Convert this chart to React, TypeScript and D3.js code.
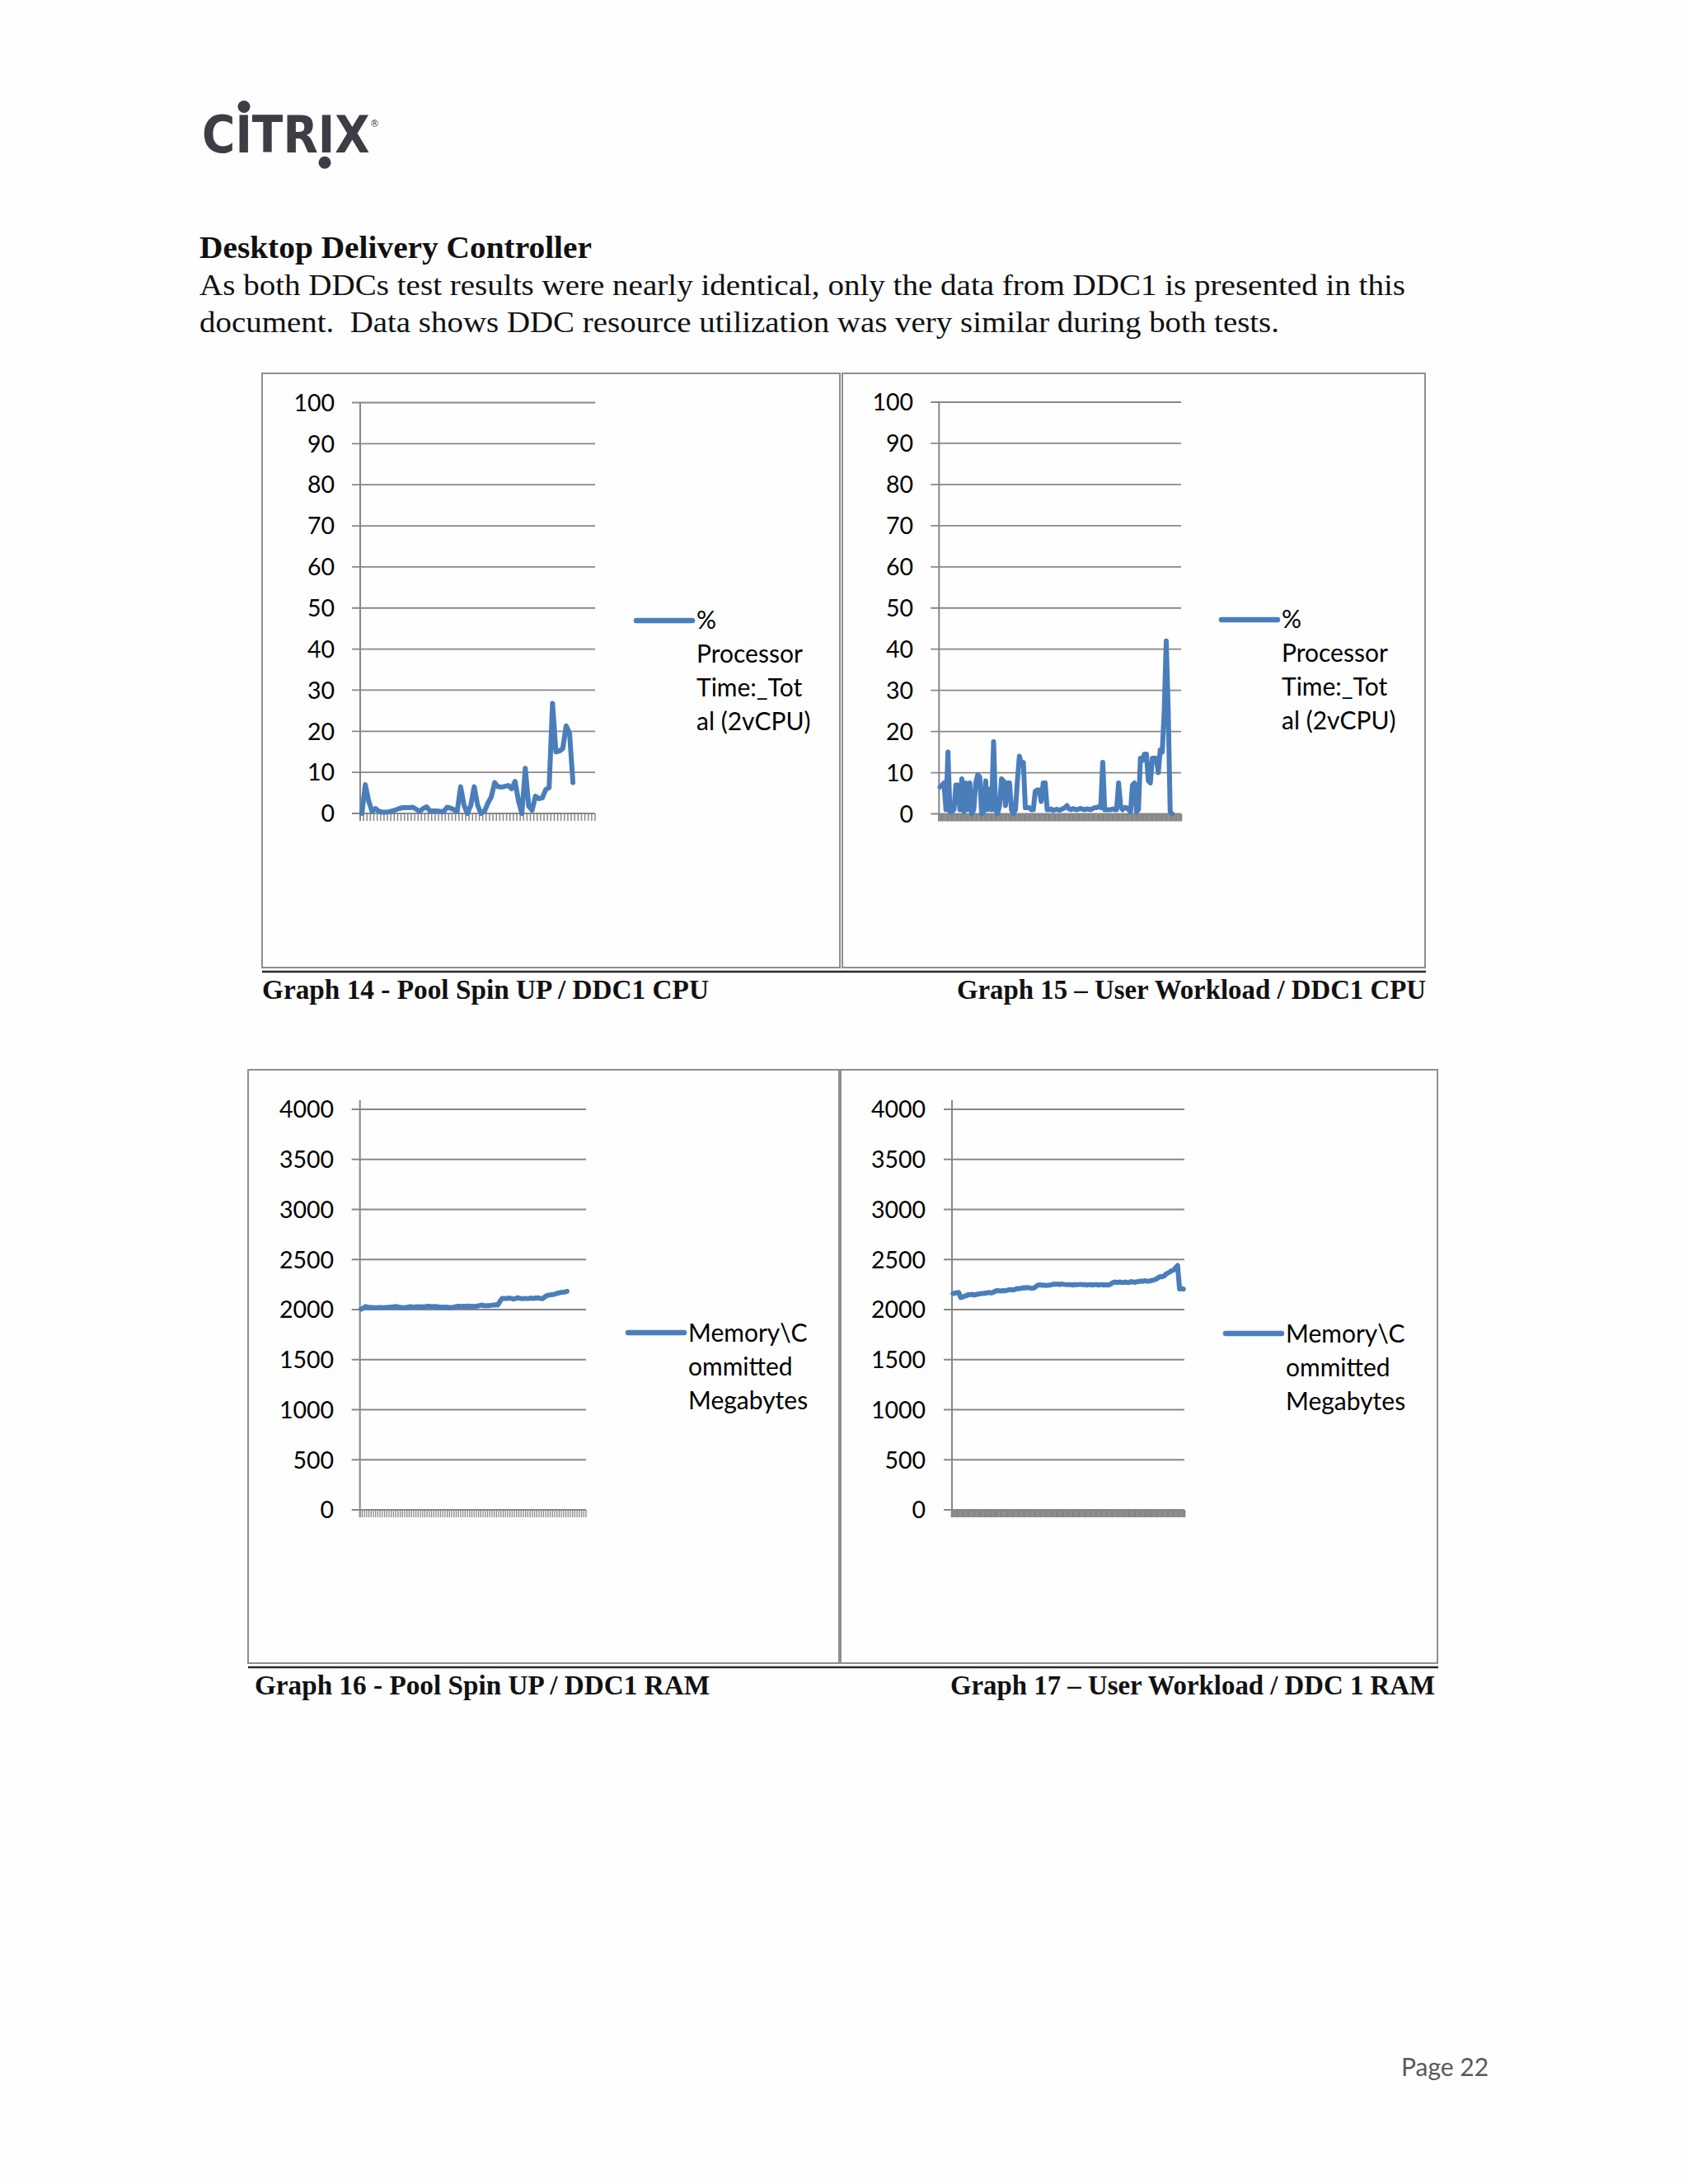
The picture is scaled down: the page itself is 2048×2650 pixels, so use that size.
import React from "react";
import * as d3 from "d3";

// ---------- data ----------
const cpuTicks = [0, 10, 20, 30, 40, 50, 60, 70, 80, 90, 100];
const ramTicks = [0, 500, 1000, 1500, 2000, 2500, 3000, 3500, 4000];

// Graph 14 - Pool Spin UP / DDC1 CPU (% Processor Time)
const cpuSpinUp = [
  0, 7, 3, 0.5, 1.2, 0.5, 0.3, 0.3, 0.4, 0.6, 0.9, 1.2, 1.4, 1.4, 1.4, 1.5, 1.0, 0.5, 1.2, 1.6,
  0.6, 0.6, 0.6, 0.5, 0.4, 1.5, 1.3, 0.9, 0.5, 6.5, 2, 0, 2, 6.5, 2, 0, 0.5, 2.5, 4, 7.5,
  6.5, 6.4, 6.6, 6.8, 6.0, 7.8, 3, 0, 11, 1.8, 0.8, 4.2, 3.6, 3.8, 5.8, 6.3, 26.8, 15, 15.2, 15.8,
  21.3, 19.5, 7.5,
];

// Graph 15 - User Workload / DDC1 CPU (% Processor Time)
const cpuWorkload = [
  6.5, 7, 7.5, 1, 15, 0.5, 0.5, 1, 7, 7, 1, 8.5, 0.5, 7.5, 1, 7.5, 0, 1, 7.5, 9.5,
  9, 0, 0.5, 8, 1, 6, 1, 17.5, 1, 0, 2, 8.5, 8, 2, 7.5, 7.5, 1, 0, 1, 8,
  14, 12, 12.5, 1.5, 1.5, 1.5, 1, 1, 5.5, 5.8, 5.8, 3, 7.5, 7.5, 1, 1, 1.2, 0.8, 1, 1.1,
  0.9, 1, 1.3, 1.5, 2, 1.2, 1, 1.3, 1.1, 1, 1.2, 1.3, 1.1, 1, 1.2, 1.1, 1, 1.3, 1.5, 1.5,
  1.8, 1.5, 12.5, 1, 1, 1, 1, 1.2, 1, 1, 7.5, 2, 1, 1.5, 1.5, 1, 0.5, 7, 7.5, 0.5,
  1, 13.5, 13, 14.5, 14.5, 8, 7.5, 13.5, 13.5, 13.5, 10, 15.5, 15, 25, 42, 25, 0.5, 0,
];

// Graph 16 - Pool Spin UP / DDC1 RAM (Memory\Committed Megabytes)
const ramSpinUp = [
  2005, 2015, 2030, 2025, 2020, 2020, 2018, 2018, 2020, 2020, 2018, 2020, 2022, 2025, 2025, 2030, 2028, 2025, 2020, 2018,
  2020, 2025, 2028, 2026, 2025, 2028, 2026, 2028, 2025, 2030, 2032, 2030, 2028, 2030, 2028, 2025, 2025, 2022, 2025, 2022,
  2020, 2020, 2028, 2032, 2032, 2030, 2032, 2030, 2035, 2032, 2030, 2032, 2035, 2040, 2045, 2038, 2040, 2040, 2042, 2045,
  2048, 2045, 2080, 2112, 2112, 2110, 2115, 2112, 2105, 2110, 2118, 2112, 2108, 2112, 2110, 2112, 2115, 2112, 2115, 2118,
  2112, 2108, 2125, 2140, 2145, 2148, 2150, 2158, 2165, 2170, 2172, 2175, 2182,
];

// Graph 17 - User Workload / DDC 1 RAM (Memory\Committed Megabytes)
const ramWorkload = [
  2160, 2165, 2168, 2170, 2120, 2125, 2135, 2140, 2150, 2148, 2152, 2145, 2150, 2155, 2158, 2160, 2162, 2165, 2168, 2170,
  2165, 2175, 2185, 2190, 2188, 2185, 2190, 2188, 2192, 2198, 2200, 2195, 2200, 2210, 2208, 2212, 2218, 2215, 2220, 2218,
  2215, 2212, 2218, 2232, 2245, 2248, 2242, 2245, 2240, 2242, 2245, 2248, 2255, 2252, 2255, 2250, 2255, 2252, 2250, 2248,
  2250, 2248, 2245, 2250, 2248, 2250, 2252, 2248, 2250, 2245, 2248, 2250, 2245, 2248, 2250, 2245, 2248, 2250, 2245, 2248,
  2245, 2250, 2262, 2272, 2275, 2270, 2275, 2272, 2270, 2275, 2272, 2270, 2280, 2275, 2272, 2278, 2280, 2285, 2282, 2288,
  2285, 2282, 2288, 2292, 2298, 2305, 2318, 2330, 2328, 2335, 2355, 2365, 2375, 2390, 2395, 2420, 2440, 2205, 2210, 2205,
];

const cpuLegend = ["%", "Processor", "Time:_Tot", "al (2vCPU)"];
const ramLegend = ["Memory\\C", "ommitted", "Megabytes"];

const logoText = "CITRIX";
const heading = "Desktop Delivery Controller";
const bodyLines = [
  "As both DDCs test results were nearly identical, only the data from DDC1 is presented in this",
  "document.  Data shows DDC resource utilization was very similar during both tests.",
];
const captions = [
  "Graph 14 - Pool Spin UP / DDC1 CPU",
  "Graph 15 \u2013 User Workload / DDC1 CPU",
  "Graph 16 - Pool Spin UP / DDC1 RAM",
  "Graph 17 \u2013 User Workload / DDC 1 RAM",
];
const pageLabel = "Page 22";

// ---------- styles ----------
const BLUE = "#4A7EBB";
const GRID = "#878787";
const CHART_FONT = "Lato, 'Open Sans', 'Liberation Sans', sans-serif";
const SERIF = "'Liberation Serif', 'DejaVu Serif', serif";

type Geo = {
  x0: number; x1: number; yT: number; yB: number; labelRight: number;
  axisOver: number; tickLen: number; tickW: number;
  legX: number; legY: number; legBase: number;
};

function Panel(props: {
  data: number[]; ticks: number[]; nCats: number; geo: Geo; legend: string[];
}) {
  const { data, ticks, nCats, geo, legend } = props;
  const x = d3.scaleBand<number>().domain(d3.range(nCats)).range([geo.x0, geo.x1]).padding(0);
  const y = d3.scaleLinear().domain([0, ticks[ticks.length - 1]]).range([geo.yB, geo.yT]);
  const line = d3
    .line<number>()
    .x((_, i) => (x(i) as number) + x.bandwidth() / 2)
    .y((d) => y(d));
  const bounds = d3.range(nCats).map((i) => x(i) as number).concat([geo.x1]);
  return (
    <g>
      {ticks.map((t) => (
        <g key={t}>
          <line x1={geo.x0 - 10} x2={geo.x1} y1={y(t)} y2={y(t)} stroke={GRID} strokeWidth={1.8} />
          <text
            x={geo.labelRight}
            y={y(t)}
            dy="0.36em"
            textAnchor="end"
            fontFamily={CHART_FONT}
            fontSize={28.5}
            fill="#000"
          >
            {t}
          </text>
        </g>
      ))}
      {bounds.map((bx, i) => (
        <line key={i} x1={bx} x2={bx} y1={geo.yB} y2={geo.yB + geo.tickLen} stroke={GRID} strokeWidth={geo.tickW} />
      ))}
      <line x1={geo.x0} x2={geo.x0} y1={geo.yT - geo.axisOver} y2={geo.yB + geo.tickLen} stroke={GRID} strokeWidth={2} />
      <path d={line(data) || ""} fill="none" stroke={BLUE} strokeWidth={6} strokeLinejoin="round" strokeLinecap="round" />
      <line x1={geo.legX} x2={geo.legX + 68} y1={geo.legY} y2={geo.legY} stroke={BLUE} strokeWidth={6.5} strokeLinecap="round" />
      <text fontFamily={CHART_FONT} fontSize={30} fill="#000">
        {legend.map((s, k) => (
          <tspan key={k} x={geo.legX + 73} y={geo.legY + geo.legBase + k * 41}>
            {s}
          </tspan>
        ))}
      </text>
    </g>
  );
}

export default function App() {
  const boxes = [
    { x: 318, y: 453, w: 701, h: 721 },
    { x: 1022, y: 453, w: 707, h: 721 },
    { x: 301, y: 1298, w: 717, h: 720 },
    { x: 1020, y: 1298, w: 724, h: 720 },
  ];
  const g14: Geo = { x0: 437, x1: 722, yT: 488.5, yB: 987, labelRight: 406, axisOver: 0, tickLen: 9, tickW: 1.5, legX: 772, legY: 753, legBase: 10 };
  const g15: Geo = { x0: 1139.3, x1: 1433, yT: 488, yB: 987.5, labelRight: 1108, axisOver: 0, tickLen: 9, tickW: 2.6, legX: 1482, legY: 752, legBase: 10 };
  const g16: Geo = { x0: 436.7, x1: 711, yT: 1346, yB: 1832, labelRight: 405, axisOver: 11, tickLen: 9, tickW: 1.3, legX: 762, legY: 1617, legBase: 11 };
  const g17: Geo = { x0: 1155, x1: 1437, yT: 1346, yB: 1832, labelRight: 1123, axisOver: 11, tickLen: 9, tickW: 2.6, legX: 1487, legY: 1618, legBase: 11 };

  return (
    <svg
      width={2048}
      height={2650}
      viewBox="0 0 2048 2650"
      style={{ position: "absolute", left: 0, top: 0, background: "#fefefe" }}
    >
      <rect x={0} y={0} width={2048} height={2650} fill="#fefefe" />
      {/* logo */}
      <g fill="#3c3d45">
        <text
          x={245}
          y={185}
          fontFamily="'DejaVu Sans', sans-serif"
          fontWeight={700}
          fontSize={63}
          textLength={215}
          lengthAdjust="spacingAndGlyphs"
        >
          {logoText}
          <tspan dy={-31} fontSize={13} fontWeight={400}>®</tspan>
        </text>
        <circle cx={296} cy={129.5} r={7.5} />
        <circle cx={394} cy={197.3} r={7.5} />
      </g>

      {/* heading and body text */}
      <text x={242} y={313} fontFamily={SERIF} fontWeight={700} fontSize={37} textLength={476} lengthAdjust="spacingAndGlyphs" fill="#111">
        {heading}
      </text>
      {bodyLines.map((s, i) => (
        <text
          key={i}
          x={242}
          y={358 + i * 45}
          fontFamily={SERIF}
          fontSize={36}
          textLength={i === 0 ? 1463 : 1310}
          lengthAdjust="spacingAndGlyphs"
          fill="#111"
          style={{ whiteSpace: "pre" }}
        >
          {s}
        </text>
      ))}

      {/* chart frames */}
      {boxes.map((b, i) => (
        <rect key={i} x={b.x} y={b.y} width={b.w} height={b.h} fill="#fefefe" stroke="#8f8f8f" strokeWidth={2} />
      ))}
      <line x1={318} x2={1730} y1={1179} y2={1179} stroke="#2a2a2a" strokeWidth={2.5} />
      <line x1={301} x2={1745} y1={2023} y2={2023} stroke="#2a2a2a" strokeWidth={2.5} />

      <Panel data={cpuSpinUp} ticks={cpuTicks} nCats={69} geo={g14} legend={cpuLegend} />
      <Panel data={cpuWorkload} ticks={cpuTicks} nCats={122} geo={g15} legend={cpuLegend} />
      <Panel data={ramSpinUp} ticks={ramTicks} nCats={101} geo={g16} legend={ramLegend} />
      <Panel data={ramWorkload} ticks={ramTicks} nCats={120} geo={g17} legend={ramLegend} />

      {/* captions */}
      {[
        { x: 318, y: 1212, w: 542 },
        { x: 1161, y: 1212, w: 569 },
        { x: 309, y: 2056, w: 552 },
        { x: 1153, y: 2056, w: 588 },
      ].map((c, i) => (
        <text key={i} x={c.x} y={c.y} fontFamily={SERIF} fontWeight={700} fontSize={33} textLength={c.w} lengthAdjust="spacingAndGlyphs" fill="#111">
          {captions[i]}
        </text>
      ))}

      <text x={1700} y={2519} fontFamily={CHART_FONT} fontSize={30} fill="#595959">
        {pageLabel}
      </text>
    </svg>
  );
}
